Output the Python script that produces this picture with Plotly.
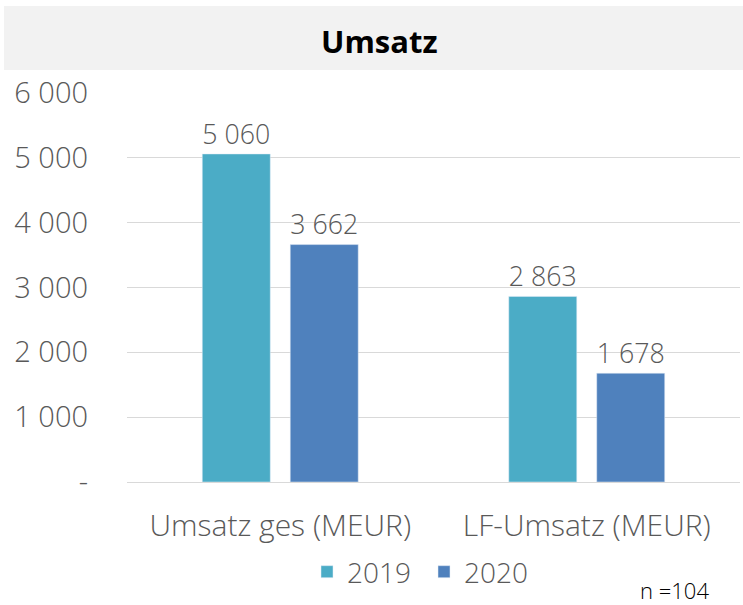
import plotly.graph_objects as go

categories = ["Umsatz ges (MEUR)", "LF-Umsatz (MEUR)"]
series_names = ["2019", "2020"]
values_2019 = [5060, 2863]
values_2020 = [3662, 1678]
tick_vals = [0, 1000, 2000, 3000, 4000, 5000, 6000]
tick_text = ["-", "1 000", "2 000", "3 000", "4 000", "5 000", "6 000"]

FONT = "Open Sans"
GRAY = "#595959"
WT = 300

fig = go.Figure()
for name, vals, col in [(series_names[0], values_2019, "#4BACC6"),
                        (series_names[1], values_2020, "#4F81BD")]:
    fig.add_trace(go.Bar(
        x=categories, y=vals, name=name, marker_color=col,
        texttemplate="%{y:,.0f}",
        textposition="outside",
        textfont=dict(family=FONT, size=29, color=GRAY, weight=WT),
        cliponaxis=False,
    ))

W, H = 743, 605
L, R, T, B = 127, 3, 93, 123
pw, ph = W - L - R, H - T - B

def px(x):
    return (x - L) / pw

def py(y):
    return (H - B - y) / ph

fig.add_shape(type="rect", xref="paper", yref="paper",
              x0=px(4), x1=px(743), y0=py(70), y1=py(6),
              fillcolor="#F2F2F2", line_width=0, layer="below")

fig.add_annotation(text="<b>Umsatz</b>", xref="paper", yref="paper",
                   x=px(379), y=py(41), xanchor="center", yanchor="middle",
                   showarrow=False,
                   font=dict(family=FONT, size=31, color="black"))
fig.add_annotation(text="n =104", xref="paper", yref="paper",
                   x=px(674), y=py(590), xanchor="center", yanchor="middle",
                   showarrow=False,
                   font=dict(family=FONT, size=22, color="black", weight=WT))

fig.update_layout(
    width=W, height=H, autosize=False,
    margin=dict(l=L, r=R, t=T, b=B, autoexpand=False),
    paper_bgcolor="white", plot_bgcolor="white",
    separators=", ",
    barmode="group", bargap=0.426, bargroupgap=0.227,
    font=dict(family=FONT, color=GRAY, weight=WT),
    showlegend=True,
    legend=dict(orientation="h", x=px(307), xanchor="left", y=py(572), yanchor="middle",
                entrywidth=72,
                font=dict(family=FONT, size=28, color=GRAY, weight=WT)),
    xaxis=dict(showline=True, linecolor="#D9D9D9", linewidth=1, ticks="",
               automargin=False,
               tickfont=dict(family=FONT, size=30, color=GRAY, weight=WT),
               ticklabelstandoff=17),
    yaxis=dict(range=[0, 6000], tickvals=tick_vals, ticktext=tick_text,
               automargin=False,
               showgrid=True, gridcolor="#D9D9D9", gridwidth=1, zeroline=False,
               tickfont=dict(family=FONT, size=29, color=GRAY, weight=WT),
               ticklabelstandoff=38),
)

fig.write_html("out.html", config={"responsive": False, "displayModeBar": False},
               post_script="document.body.style.margin='0';document.body.style.overflow='hidden';")
